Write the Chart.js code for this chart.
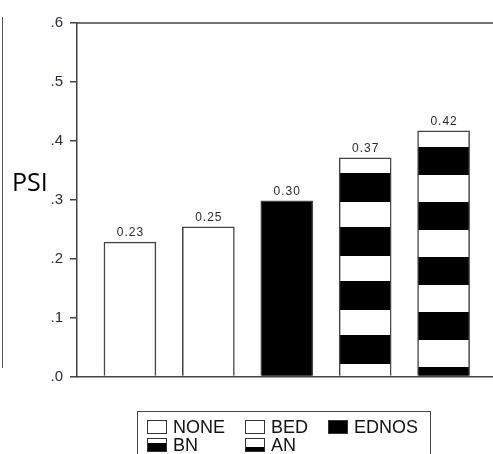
<!DOCTYPE html>
<html>
<head>
<meta charset="utf-8">
<script src="https://cdn.jsdelivr.net/npm/chart.js@4.4.1/dist/chart.umd.min.js"></script>
<style>
  html, body { margin: 0; padding: 0; background: #fff; overflow: hidden; }
  #wrap { position: relative; width: 493px; height: 454px; }
  #c { position: absolute; left: 0; top: 0; }
  #frameLine { position: absolute; left: 2px; top: 17px; width: 0; height: 351px; border-left: 1.5px solid #555; }
  #psi { position: absolute; left: 12px; top: 165px; font-family: "Open Sans", sans-serif; font-size: 25px; color: #000; line-height: 32px; }
  #legend { position: absolute; left: 137px; top: 411px; width: 294px; height: 60px; border: 1.5px solid #444; box-sizing: border-box; }
  .li { position: absolute; font-family: "Liberation Sans", Arial, sans-serif; font-size: 18px; line-height: 18px; color: #111; white-space: nowrap; }
  .sw { position: absolute; width: 20px; height: 14px; box-sizing: border-box; border: 1.5px solid #333; background: #fff; }
  .tx { position: absolute; left: 26px; top: -1px; }
</style>
</head>
<body>
<div id="wrap">
  <canvas id="c" width="493" height="454"></canvas>
  <div id="frameLine"></div>
  <div id="psi">PSI</div>
  <div id="legend"></div>
</div>
<script>
// ---- data ----
const categories = ['NONE', 'BED', 'EDNOS', 'BN', 'AN'];
const psiValues = [0.228, 0.254, 0.298, 0.371, 0.417];
const yTickValues = [0, 0.1, 0.2, 0.3, 0.4, 0.5, 0.6];
const fillKinds = ['white', 'white', 'black', 'stripeBN', 'stripeAN'];

// ---- patterns ----
function stripePattern(period, blackStart, blackLen) {
  const c = document.createElement('canvas');
  c.width = 8; c.height = period;
  const x = c.getContext('2d');
  x.fillStyle = '#fff'; x.fillRect(0, 0, 8, period);
  x.fillStyle = '#000';
  x.fillRect(0, blackStart, 8, blackLen);
  if (blackStart + blackLen > period) x.fillRect(0, 0, 8, blackStart + blackLen - period);
  return document.getElementById('c').getContext('2d').createPattern(c, 'repeat');
}
const fills = {
  white: '#ffffff',
  black: '#000000',
  stripeBN: stripePattern(54, 11, 29),
  stripeAN: stripePattern(55, 37, 28)
};

// ---- plugins ----
const frameTop = {
  id: 'frameTop',
  afterDraw(chart) {
    const { ctx, chartArea } = chart;
    ctx.save();
    ctx.strokeStyle = '#444';
    ctx.lineWidth = 1.5;
    ctx.beginPath();
    ctx.moveTo(chartArea.left, chartArea.top);
    ctx.lineTo(chartArea.right, chartArea.top);
    ctx.stroke();
    ctx.restore();
  }
};
const valueLabels = {
  id: 'valueLabels',
  afterDatasetsDraw(chart) {
    const { ctx } = chart;
    const meta = chart.getDatasetMeta(0);
    ctx.save();
    ctx.font = '12px "Liberation Sans", Arial, sans-serif';
    if ('letterSpacing' in ctx) ctx.letterSpacing = '1px';
    ctx.fillStyle = '#2a2a2a';
    ctx.textAlign = 'center';
    ctx.textBaseline = 'alphabetic';
    meta.data.forEach((el, i) => {
      const v = chart.data.datasets[0].data[i].y;
      ctx.fillText(v.toFixed(2), el.x + 0.5, el.y - 6);
    });
    ctx.restore();
  }
};

new Chart(document.getElementById('c'), {
  type: 'bar',
  data: {
    datasets: [{
      label: 'PSI',
      data: categories.map((c, i) => ({ x: i, y: psiValues[i] })),
      backgroundColor: fillKinds.map(k => fills[k]),
      borderColor: '#444',
      borderWidth: 1.5,
      barThickness: 52
    }]
  },
  options: {
    responsive: false,
    animation: false,
    layout: { padding: { top: 23, left: 0, right: 0, bottom: 0 } },
    plugins: { legend: { display: false }, tooltip: { enabled: false } },
    scales: {
      x: {
        type: 'linear',
        offset: false,
        min: -0.675,
        max: 4.63,
        ticks: { display: false },
        grid: { display: false, offset: false },
        border: { display: true, color: '#444', width: 1.5 },
        afterFit(s) { s.height = 77.5; }
      },
      y: {
        min: 0,
        max: 0.6,
        afterBuildTicks(s) { s.ticks = yTickValues.map(v => ({ value: v })); },
        ticks: {
          callback: v => '.' + Math.round(v * 10),
          font: { family: '"Liberation Sans", Arial, sans-serif', size: 15 },
          color: '#2a2a3a',
          padding: 7
        },
        grid: { drawOnChartArea: false, drawTicks: true, tickLength: 7, color: '#444', lineWidth: 1.5 },
        border: { display: true, color: '#444', width: 1.5 },
        afterFit(s) { s.width = 77; }
      }
    }
  },
  plugins: [frameTop, valueLabels]
});

// ---- legend (HTML) ----
const legendItems = [
  { name: 'NONE', x: 9, y: 7, sw: 'white' },
  { name: 'BED', x: 107, y: 7, sw: 'white' },
  { name: 'EDNOS', x: 190, y: 7, sw: 'black' },
  { name: 'BN', x: 9, y: 25, sw: 'bn' },
  { name: 'AN', x: 107, y: 25, sw: 'an' }
];
const lg = document.getElementById('legend');
legendItems.forEach(it => {
  const d = document.createElement('div');
  d.className = 'li';
  d.style.left = it.x + 'px';
  d.style.top = it.y + 'px';
  const s = document.createElement('div');
  s.className = 'sw';
  s.style.left = '0px'; s.style.top = '1px';
  if (it.sw === 'black') s.style.background = '#000';
  if (it.sw === 'bn') s.style.background = 'linear-gradient(#fff 0 35%, #000 35% 100%)';
  if (it.sw === 'an') s.style.background = 'linear-gradient(#fff 0 63%, #000 63% 100%)';
  const t = document.createElement('span');
  t.className = 'tx';
  t.textContent = it.name;
  d.appendChild(s); d.appendChild(t);
  lg.appendChild(d);
});
</script>
</body>
</html>
